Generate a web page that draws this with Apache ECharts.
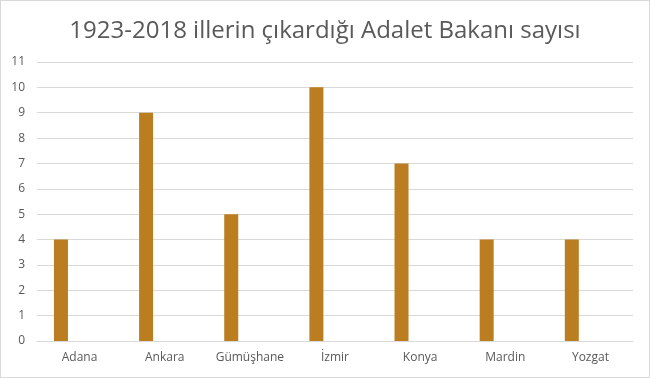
<!DOCTYPE html>
<html>
<head>
<meta charset="utf-8">
<script src="https://cdn.jsdelivr.net/npm/echarts@6/dist/echarts.min.js"></script>
<style>
  html, body { margin: 0; padding: 0; background: #fff; }
  #chart { width: 648px; height: 376px; border: 1px solid #d9d9d9; }
</style>
</head>
<body>
<div id="chart"></div>
<script>
// veriler
const iller = ["Adana", "Ankara", "Gümüşhane", "İzmir", "Konya", "Mardin", "Yozgat"];
const bakanSayisi = [4, 9, 5, 10, 7, 4, 4];
const bosSeri = ["-", "-", "-", "-", "-", "-", "-"];

const myChart = echarts.init(document.getElementById("chart"));
const option = {
  animation: false,
  title: {
    text: "1923-2018 illerin çıkardığı Adalet Bakanı sayısı",
    left: "center",
    top: 13,
    textStyle: {
      fontFamily: "Open Sans",
      fontSize: 24,
      fontWeight: "normal",
      color: "#595959",
    },
  },
  grid: {
    top: 61,
    left: 36,
    right: 16,
    bottom: 36,
  },
  xAxis: {
    type: "category",
    data: iller,
    axisTick: { show: false },
    axisLine: { lineStyle: { color: "#d9d9d9" } },
    axisLabel: {
      interval: 0,
      fontFamily: "Open Sans",
      fontSize: 12,
      color: "#595959",
      margin: 11,
    },
  },
  yAxis: {
    type: "value",
    min: 0,
    max: 11,
    interval: 1,
    axisLine: { show: false },
    axisTick: { show: false },
    axisLabel: {
      fontFamily: "Open Sans",
      fontSize: 12,
      color: "#595959",
      margin: 12,
    },
    splitLine: {
      lineStyle: { color: "#d9d9d9", width: 1 },
    },
  },
  series: [
    {
      name: "Adalet Bakanı",
      type: "bar",
      data: bakanSayisi,
      barWidth: 14,
      barGap: "166%",
      itemStyle: { color: "#BA7D1F" },
    },
    {
      name: "boş",
      type: "bar",
      data: bosSeri,
      barWidth: 14,
    },
  ],
};
myChart.setOption(option);
</script>
</body>
</html>
